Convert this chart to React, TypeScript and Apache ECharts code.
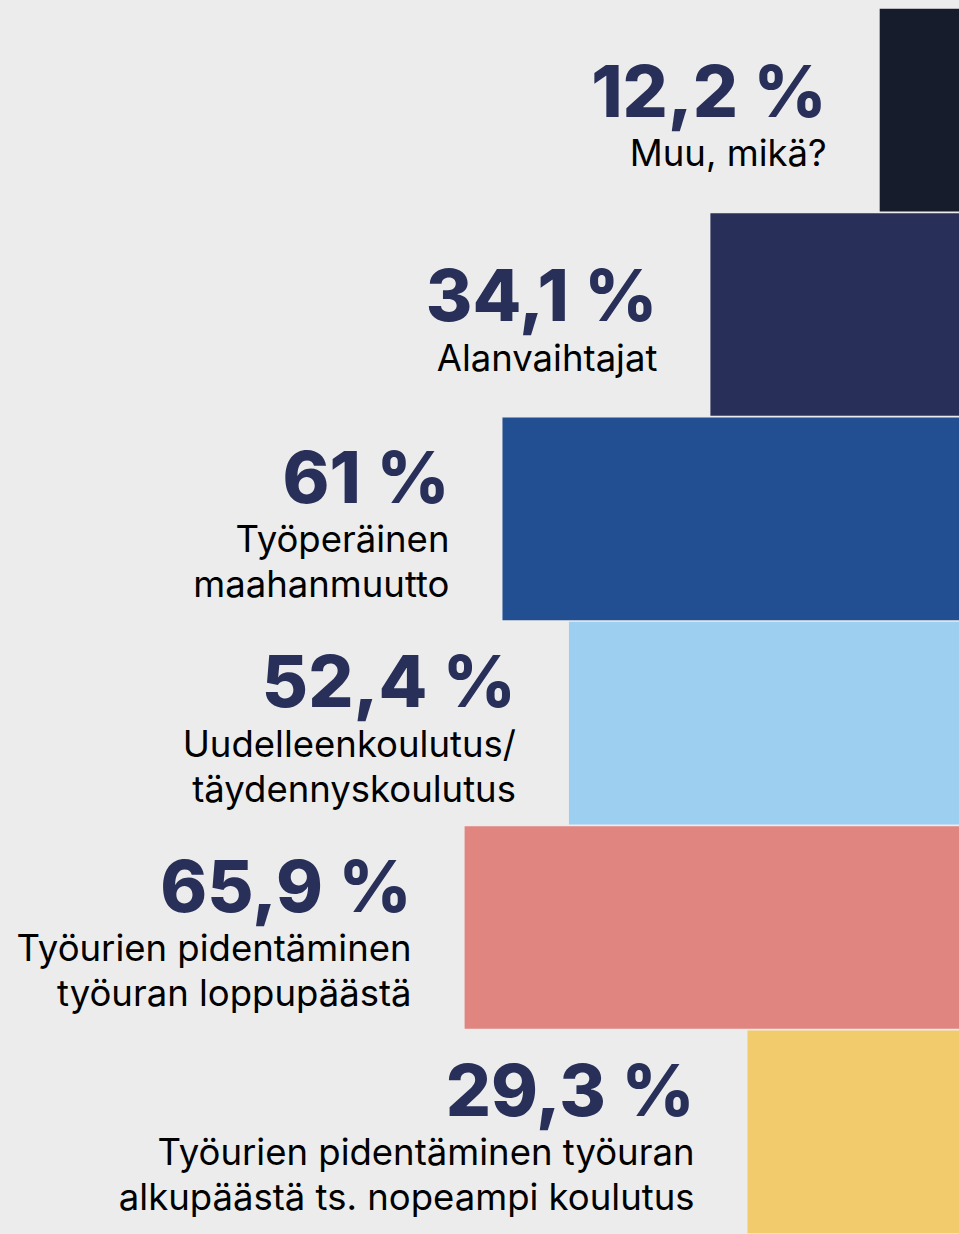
import React, { useEffect, useRef } from "react";
import * as echarts from "echarts";

const categories = [
  "Muu, mikä?",
  "Alanvaihtajat",
  "Työperäinen\nmaahanmuutto",
  "Uudelleenkoulutus/\ntäydennyskoulutus",
  "Työurien pidentäminen\ntyöuran loppupäästä",
  "Työurien pidentäminen työuran\nalkupäästä ts. nopeampi koulutus",
];
const values = [12.2, 34.1, 61, 52.4, 65.9, 29.3];
const palette = ["#171c2c", "#283059", "#224f91", "#9dcff1", "#e0857f", "#f2cb6c"];

const fmt = (v: number) => String(v).replace(".", ",") + " %";

export default function App() {
  const ref = useRef<HTMLDivElement>(null);
  useEffect(() => {
    if (!ref.current) return;
    const chart = echarts.init(ref.current, undefined, { renderer: "svg" });
    chart.setOption({
      animation: false,
      backgroundColor: "#ececec",
      grid: { left: 201, right: 0, top: 8, bottom: 0, containLabel: false },
      xAxis: {
        type: "value",
        min: 0,
        max: 100,
        inverse: true,
        show: false,
      },
      yAxis: {
        type: "category",
        data: categories,
        inverse: true,
        show: false,
      },
      series: [
        {
          type: "bar",
          barCategoryGap: "0.8%",
          data: values.map((v, i) => ({
            value: v,
            itemStyle: { color: palette[i] },
          })),
          label: {
            show: true,
            position: "left",
            distance: 53,
            offset: [0, 3],
            align: "right",
            formatter: (p: any) => {
              const lines = String(p.name).split("\n").map((l) => `{n|${l}}`);
              return `{v|${fmt(p.value)}}\n` + lines.join("\n");
            },
            rich: {
              v: {
                fontFamily: "Inter",
                fontWeight: 800,
                fontSize: 71,
                lineHeight: 80,
                color: "#283059",
                align: "right",
              },
              n: {
                fontFamily: "Inter",
                fontWeight: 400,
                fontSize: 36.5,
                lineHeight: 45,
                color: "#000000",
                align: "right",
              },
            },
          },
        },
      ],
    });
    return () => chart.dispose();
  }, []);
  return (
    <div
      style={{
        position: "absolute",
        left: 0,
        top: 0,
        width: 959,
        height: 1234,
        overflow: "hidden",
        background: "#ececec",
      }}
    >
      <div ref={ref} style={{ width: 974, height: 1234 }} />
    </div>
  );
}
